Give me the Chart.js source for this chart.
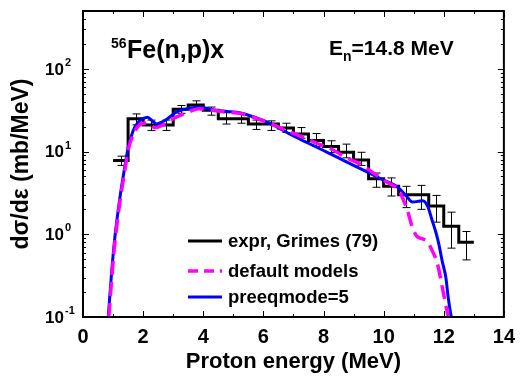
<!DOCTYPE html>
<html>
<head>
<meta charset="utf-8">
<script src="https://cdn.jsdelivr.net/npm/chart.js@4.4.1/dist/chart.umd.min.js"></script>
<style>
  html, body { margin: 0; padding: 0; background: #fff; }
  #wrap { width: 523px; height: 378px; }
</style>
</head>
<body>
<div id="wrap"><canvas id="chart" width="523" height="378"></canvas></div>
<script>
// experiment, Grimes (79): bin centres (MeV), value and error bar ends (mb/MeV)
const expE = [1.25, 1.75, 2.25, 2.75, 3.25, 3.75, 4.25, 4.75, 5.25, 5.75, 6.25, 6.75,
              7.25, 7.75, 8.25, 8.75, 9.25, 9.75, 10.25, 10.75, 11.25, 11.75, 12.25, 12.75];
const expY = [7.8, 25, 21, 21, 32.5, 36.5, 31.5, 25, 25, 21.6, 21.6, 19.3,
              16.3, 13.6, 11.5, 9.8, 7.9, 4.7, 3.8, 3.0, 3.0, 2.2, 1.25, 0.8];
const expLo = [6.8, 21, 18, 18, 29, 33, 27.5, 21.5, 22, 18.5, 18, 17,
               14.5, 11.5, 9.7, 8.4, 6.8, 3.7, 2.9, 2.1, 2.0, 1.4, 0.68, 0.49];
const expHi = [8.8, 28.5, 24, 24, 36, 41, 34.5, 29.5, 29, 24, 23.5, 22,
               19.5, 16.5, 13.5, 12.3, 9.8, 5.5, 4.8, 3.8, 3.9, 2.95, 1.85, 1.08];
const binWidth = 0.5;

// default models (dashed magenta)
const defE = [0.86, 0.97, 1.07, 1.25, 1.41, 1.52, 1.7, 1.85, 2.0, 2.2, 2.39, 2.6, 2.8, 3.0,
              3.3, 3.6, 3.85, 4.2, 4.8, 5.2, 5.6, 6.0, 6.5, 6.87, 7.4, 7.8, 8.2, 8.8, 9.2,
              9.7, 10.1, 10.3, 10.46, 10.63, 10.79, 10.96, 11.1, 11.3, 11.45, 11.62, 11.79,
              11.95, 12.05, 12.15];
const defY = [0.1, 0.34, 0.85, 2.8, 6.5, 11, 17, 20.5, 22, 21.5, 19.5, 20.5, 22.5, 25,
              28, 31, 33, 32, 30, 29, 26.5, 23.5, 19.8, 17.3, 14.5, 12.5, 11, 8.3, 7.1,
              5.4, 4.3, 3.9, 3.6, 2.75, 1.95, 1.2, 0.95, 0.88, 0.82, 0.63, 0.44,
              0.23, 0.15, 0.1];

// preeqmode=5 (solid blue)
const pqE = [0.84, 0.95, 1.05, 1.23, 1.39, 1.5, 1.67, 1.83, 2.0, 2.15, 2.3, 2.45, 2.6,
             2.8, 3.1, 3.4, 3.7, 3.9, 4.3, 4.8, 5.2, 5.5, 5.9, 6.2, 6.54, 6.87, 7.5, 8.0,
             8.5, 9.0, 9.5, 10.0, 10.45, 10.74, 10.96, 11.15, 11.3, 11.46, 11.62, 11.74,
             11.84, 11.95, 12.07, 12.15, 12.25];
const pqY = [0.1, 0.34, 0.85, 2.8, 6.5, 11, 18, 22.5, 25, 26, 23.5, 21.6, 22.5,
             24.8, 30, 32.5, 34, 34.5, 32, 30.5, 29.5, 27.5, 24.5, 22, 19, 16.3, 12.6, 10.3,
             8.4, 6.8, 5.55, 4.5, 3.75, 2.95, 2.45, 2.5, 2.55, 2.2, 1.45, 1.05,
             0.75, 0.47, 0.3, 0.17, 0.1];

const xTickValues = [0, 2, 4, 6, 8, 10, 12, 14];
const yDecades = [-1, 0, 1, 2];
const seriesNames = ['expr, Grimes (79)', 'default models', 'preeqmode=5'];

const FONT = 'Liberation Sans, Arial, sans-serif';

// histogram steps from bin edges
const histPoints = expE.map((e, i) => ({ x: e - binWidth / 2, y: expY[i] }));
histPoints.push({ x: expE[expE.length - 1] + binWidth / 2, y: expY[expY.length - 1] });

const overlay = {
  id: 'overlay',
  beforeDatasetsDraw(chart) {
    const { ctx, scales: { x, y } } = chart;
    ctx.save();
    ctx.strokeStyle = '#000';
    ctx.lineWidth = 1;
    expE.forEach((e, i) => {
      const px = Math.round(x.getPixelForValue(e)) + 0.5;
      const y1 = y.getPixelForValue(expLo[i]);
      const y2 = y.getPixelForValue(expHi[i]);
      ctx.beginPath();
      ctx.moveTo(px, y1); ctx.lineTo(px, y2);
      ctx.moveTo(px - 4, y1); ctx.lineTo(px + 4, y1);
      ctx.moveTo(px - 4, y2); ctx.lineTo(px + 4, y2);
      ctx.stroke();
    });
    ctx.restore();
  },
  afterDraw(chart) {
    const { ctx, chartArea: a, scales: { x, y } } = chart;
    ctx.save();
    ctx.strokeStyle = '#000';
    // frame
    ctx.lineWidth = 2;
    ctx.strokeRect(a.left, a.top, a.right - a.left, a.bottom - a.top);
    // inward ticks
    ctx.lineWidth = 1;
    ctx.beginPath();
    for (let v = 0; v <= 14; v++) {
      const len = v % 2 === 0 ? 6 : 3;
      const px = Math.round(x.getPixelForValue(v)) + 0.5;
      ctx.moveTo(px, a.bottom); ctx.lineTo(px, a.bottom - len);
      ctx.moveTo(px, a.top); ctx.lineTo(px, a.top + len);
    }
    yDecades.forEach(d => {
      for (let m = 1; m <= 9; m++) {
        const v = m * Math.pow(10, d);
        if (v > y.max) break;
        const len = m === 1 ? 6 : 3;
        const py = Math.round(y.getPixelForValue(v)) + 0.5;
        ctx.moveTo(a.left, py); ctx.lineTo(a.left + len, py);
        ctx.moveTo(a.right, py); ctx.lineTo(a.right - len, py);
      }
    });
    ctx.stroke();

    // y tick labels 10^n
    ctx.fillStyle = '#000';
    yDecades.forEach(d => {
      const py = y.getPixelForValue(Math.pow(10, d));
      ctx.font = 'bold 17px ' + FONT;
      ctx.textAlign = 'right';
      ctx.textBaseline = 'middle';
      ctx.fillText('10', 64, py + 1);
      ctx.font = 'bold 11px ' + FONT;
      ctx.textAlign = 'left';
      ctx.textBaseline = 'alphabetic';
      ctx.fillText(String(d), 65, py - 3);
    });

    // annotations
    ctx.textAlign = 'left';
    ctx.textBaseline = 'alphabetic';
    ctx.font = 'bold 14px ' + FONT;
    ctx.fillText('56', 111, 48);
    ctx.font = 'bold 25px ' + FONT;
    ctx.fillText('Fe(n,p)x', 127, 58);

    ctx.font = 'bold 21px ' + FONT;
    ctx.fillText('E', 329, 55);
    let cx = 329 + ctx.measureText('E').width;
    ctx.font = 'bold 14px ' + FONT;
    ctx.fillText('n', cx, 61);
    cx += ctx.measureText('n').width;
    ctx.font = 'bold 21px ' + FONT;
    ctx.fillText('=14.8 MeV', cx, 55);

    // legend
    const rows = [241, 271, 297];
    const styles = [
      { color: '#000000', dash: [], width: 3 },
      { color: '#ff00ff', dash: [10, 6], width: 3.5 },
      { color: '#0000ff', dash: [], width: 3 }
    ];
    rows.forEach((ry, i) => {
      ctx.beginPath();
      ctx.setLineDash(styles[i].dash);
      ctx.strokeStyle = styles[i].color;
      ctx.lineWidth = styles[i].width;
      ctx.moveTo(188, ry); ctx.lineTo(222, ry);
      ctx.stroke();
      ctx.setLineDash([]);
      ctx.font = 'bold 18.5px ' + FONT;
      ctx.textBaseline = 'middle';
      ctx.fillStyle = '#000';
      ctx.fillText(seriesNames[i], 228, ry + 1);
    });
    ctx.restore();
  }
};

new Chart(document.getElementById('chart'), {
  type: 'line',
  data: {
    datasets: [
      {
        label: seriesNames[1],
        data: defE.map((e, i) => ({ x: e, y: defY[i] })),
        borderColor: '#ff00ff',
        borderWidth: 3.5,
        borderDash: [14, 7],
        cubicInterpolationMode: 'monotone',
        pointRadius: 0,
        order: 0
      },
      {
        label: seriesNames[2],
        data: pqE.map((e, i) => ({ x: e, y: pqY[i] })),
        borderColor: '#0000ff',
        borderWidth: 3,
        cubicInterpolationMode: 'monotone',
        pointRadius: 0,
        order: 1
      },
      {
        label: seriesNames[0],
        data: histPoints,
        borderColor: '#000000',
        borderWidth: 3,
        stepped: true,
        pointRadius: 0,
        order: 2
      }
    ]
  },
  options: {
    responsive: false,
    animation: false,
    devicePixelRatio: 1,
    layout: { padding: { top: 11, right: 18, left: 0, bottom: 0 } },
    plugins: { legend: { display: false }, tooltip: { enabled: false } },
    scales: {
      x: {
        type: 'linear',
        min: 0,
        max: 14,
        afterBuildTicks: s => { s.ticks = xTickValues.map(v => ({ value: v })); },
        afterFit: s => { s.height = 61; },
        grid: { display: false, drawTicks: false },
        border: { display: false },
        ticks: { color: '#000', padding: 8, maxRotation: 0, font: { family: FONT, size: 20, weight: 'bold' } },
        title: {
          display: true,
          text: 'Proton energy (MeV)',
          color: '#000',
          padding: { top: 0, bottom: 3 },
          font: { family: FONT, size: 22, weight: 'bold' }
        }
      },
      y: {
        type: 'logarithmic',
        min: 0.1,
        max: 500,
        afterFit: s => { s.width = 83; },
        grid: { display: false, drawTicks: false },
        border: { display: false },
        ticks: { display: false },
        title: {
          display: true,
          text: 'dσ/dε (mb/MeV)',
          color: '#000',
          padding: { top: 8, bottom: 0 },
          font: { family: FONT, size: 23, weight: 'bold' }
        }
      }
    }
  },
  plugins: [overlay]
});
</script>
</body>
</html>
